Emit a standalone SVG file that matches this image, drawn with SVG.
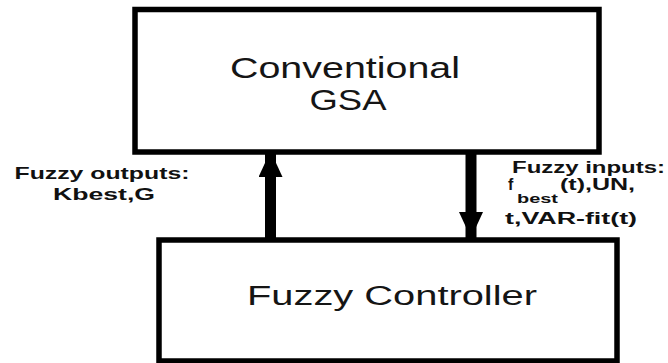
<svg xmlns="http://www.w3.org/2000/svg" width="668" height="363" viewBox="0 0 668 363">
  <style>
    .box { fill: #ffffff; stroke: #000000; stroke-width: 5.5; }
    .main { font-family: "Liberation Sans", Arial, sans-serif; fill: #151515; }
    .lbl { font-family: "Liberation Sans", Arial, sans-serif; font-weight: bold; fill: #111111; }
    .conn { stroke: #000000; stroke-width: 11; fill: none; }
  </style>
  <defs>
    <marker id="head" viewBox="0 0 26 24" refX="26" refY="12" markerWidth="26" markerHeight="24" markerUnits="userSpaceOnUse" orient="auto">
      <path d="M0,0 L26,12 L0,24 Z" fill="#000000"/>
    </marker>
  </defs>
  <rect width="668" height="363" fill="#ffffff"/>

  <g id="conventional-gsa">
    <rect class="box" x="135" y="9.5" width="464" height="142.5"/>
    <text class="main" x="345" y="78" font-size="30" text-anchor="middle" textLength="230" lengthAdjust="spacingAndGlyphs">Conventional</text>
    <text class="main" x="348" y="110" font-size="30" text-anchor="middle" textLength="77" lengthAdjust="spacingAndGlyphs">GSA</text>
  </g>

  <g id="fuzzy-controller">
    <rect class="box" x="159" y="240" width="458" height="121"/>
    <text class="main" x="247" y="305" font-size="27" textLength="290" lengthAdjust="spacingAndGlyphs">Fuzzy Controller</text>
  </g>

  <g id="connectors">
    <line class="conn" x1="270.5" y1="238" x2="270.5" y2="151" marker-end="url(#head)"/>
    <line class="conn" x1="471" y1="154" x2="471" y2="238" marker-end="url(#head)"/>
  </g>

  <g id="labels">
    <text class="lbl" x="102" y="179" font-size="17" text-anchor="middle" textLength="175" lengthAdjust="spacingAndGlyphs">Fuzzy outputs:</text>
    <text class="lbl" x="104" y="200" font-size="17" text-anchor="middle" textLength="102" lengthAdjust="spacingAndGlyphs">Kbest,G</text>
    <text class="lbl" x="512" y="173" font-size="16" textLength="153" lengthAdjust="spacingAndGlyphs">Fuzzy inputs:</text>
    <text class="lbl" x="508" y="190" font-size="16">f</text>
    <text class="lbl" x="517" y="203" font-size="13" fill="#555555" textLength="41" lengthAdjust="spacingAndGlyphs">best</text>
    <text class="lbl" x="560" y="190" font-size="16" textLength="75" lengthAdjust="spacingAndGlyphs">(t),UN,</text>
    <text class="lbl" x="505" y="224" font-size="16" textLength="132" lengthAdjust="spacingAndGlyphs">t,VAR-fit(t)</text>
  </g>
</svg>
